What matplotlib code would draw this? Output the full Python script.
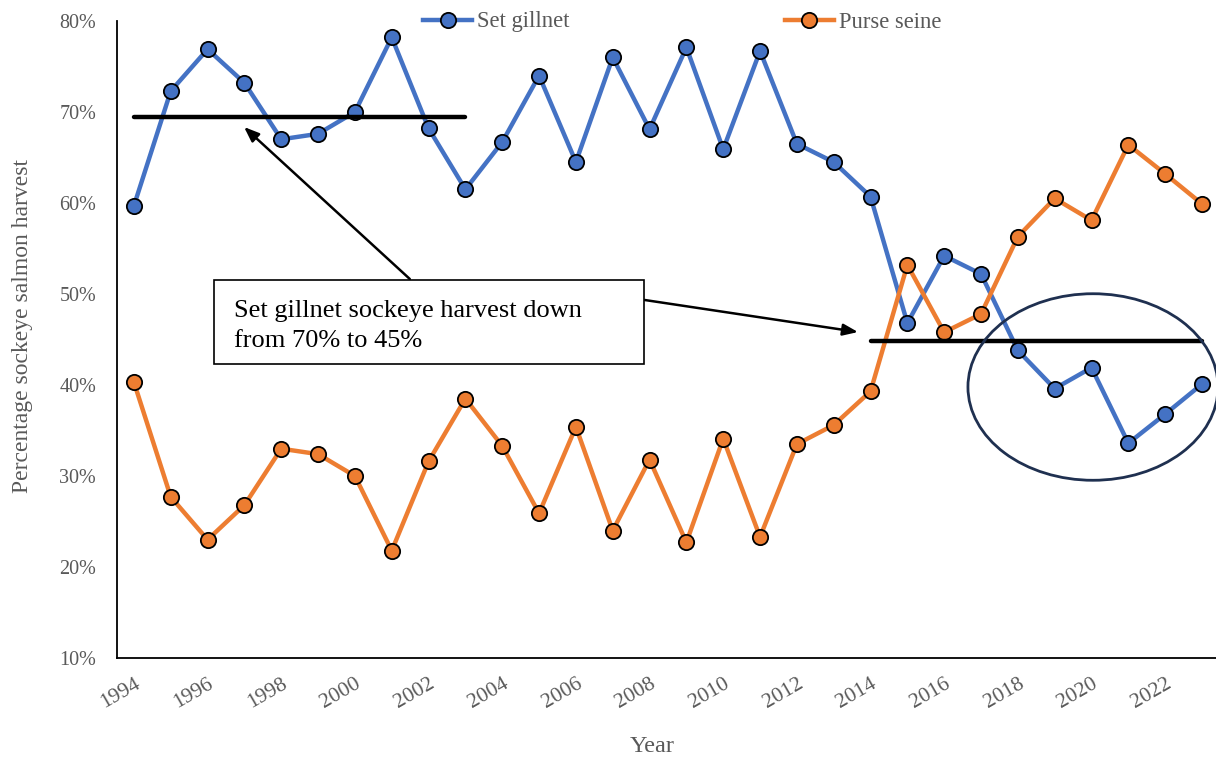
import matplotlib
matplotlib.use("Agg")
import matplotlib.pyplot as plt
from matplotlib.patches import Ellipse, Rectangle
from matplotlib.ticker import FuncFormatter

# Share of Cook Inlet sockeye harvest by gear type
years = list(range(1994, 2024))
set_gillnet = [59.7, 72.3, 76.9, 73.2, 67.0, 67.6, 70.0, 78.2, 68.2, 61.5,
               66.7, 74.0, 64.5, 76.0, 68.1, 77.1, 65.9, 76.7, 66.5, 64.5,
               60.7, 46.8, 54.2, 52.2, 43.8, 39.6, 41.9, 33.6, 36.8, 40.1]
purse_seine = [40.3, 27.7, 23.0, 26.8, 33.0, 32.4, 30.0, 21.8, 31.6, 38.5,
               33.3, 25.9, 35.4, 24.0, 31.8, 22.7, 34.1, 23.3, 33.5, 35.6,
               39.3, 53.2, 45.8, 47.8, 56.3, 60.5, 58.1, 66.4, 63.2, 59.9]
tick_years = list(range(1994, 2023, 2))

# Reference levels for the early and late periods
early_period = (1994, 2003)
early_level = 69.5
late_period = (2014, 2023)
late_level = 44.8

BLUE = "#4472C4"
ORANGE = "#ED7D31"
GREY = "#595959"
SERIF = ["Liberation Serif", "DejaVu Serif"]

plt.rcParams["font.family"] = SERIF

W, H = 1216, 757
fig = plt.figure(figsize=(W / 100, H / 100), dpi=100)
ax_left, ax_bottom, ax_top = 117, 658, 21
ax = fig.add_axes([ax_left / W, (H - ax_bottom) / H, 1 - ax_left / W,
                   (ax_bottom - ax_top) / H])
ax_w_px = W - ax_left
ax_h_px = ax_bottom - ax_top

common = dict(lw=3.2, marker="o", ms=11, mec="black", mew=1.3, zorder=3)
ax.plot(years, set_gillnet, color=BLUE, label="Set gillnet", **common)
ax.plot(years, purse_seine, color=ORANGE, label="Purse seine", **common)

ax.set_xlim(1993.54, 2023.38)
ax.set_ylim(10, 80)
ax.set_yticks(range(10, 81, 10))
ax.yaxis.set_major_formatter(FuncFormatter(lambda v, _: f"{v:.0f}%"))
ax.set_xticks(tick_years)
ax.set_xticklabels([str(y) for y in tick_years], rotation=30, ha="right",
                   rotation_mode="anchor")

for s in ("top", "right"):
    ax.spines[s].set_visible(False)
for s in ("left", "bottom"):
    ax.spines[s].set_color("black")
    ax.spines[s].set_linewidth(1.3)
ax.tick_params(axis="both", length=0, labelcolor=GREY)
ax.tick_params(axis="y", pad=15, labelsize=14.5)
ax.tick_params(axis="x", pad=12, labelsize=15.5)

ax.set_xlabel("Year", fontsize=17.5, color=GREY)
ax.xaxis.set_label_coords((652 - ax_left) / ax_w_px, (ax_bottom - 736) / ax_h_px)
ax.set_ylabel("Percentage sockeye salmon harvest", fontsize=17, color=GREY)
ax.yaxis.set_label_coords((33 - ax_left) / ax_w_px, (ax_bottom - 326) / ax_h_px)

# Period reference lines
ax.plot(early_period, [early_level] * 2, color="black", lw=3.2,
        solid_capstyle="round", zorder=4)
ax.plot(late_period, [late_level] * 2, color="black", lw=3.2,
        solid_capstyle="round", zorder=4)

# Callout box with arrows
ax.add_patch(Rectangle((1996.17, 42.31), 11.68, 9.23, facecolor="white",
                       edgecolor="black", lw=1.2, zorder=5))
ax.text(1996.72, 46.5, "Set gillnet sockeye harvest down\nfrom 70% to 45%",
        fontsize=19, color="black", va="center", ha="left",
        linespacing=1.5, zorder=6)
arrow = dict(arrowstyle="-|>,head_length=0.9,head_width=0.35", color="black",
             lw=1.8, shrinkA=0, shrinkB=0)
ax.annotate("", xy=(1996.99, 68.35), xytext=(2001.49, 51.65),
            arrowprops=arrow, zorder=4)
ax.annotate("", xy=(2013.66, 45.82), xytext=(2007.87, 49.34),
            arrowprops=arrow, zorder=4)

# Highlight recent low set gillnet share
ax.add_patch(Ellipse((2020.04, 39.78), 6.79, 20.5, fill=False,
                     edgecolor="#1F3050", lw=2.0, zorder=6, clip_on=False))

leg = ax.legend(loc="center left", bbox_to_anchor=(423 / W, 1 - 22 / H),
                bbox_transform=fig.transFigure, ncol=2, frameon=False,
                fontsize=16.3, columnspacing=9.5, handlelength=2.17,
                handletextpad=0.22, borderpad=0, borderaxespad=0)
for t in leg.get_texts():
    t.set_color(GREY)

fig.savefig("out.png", dpi=100)
